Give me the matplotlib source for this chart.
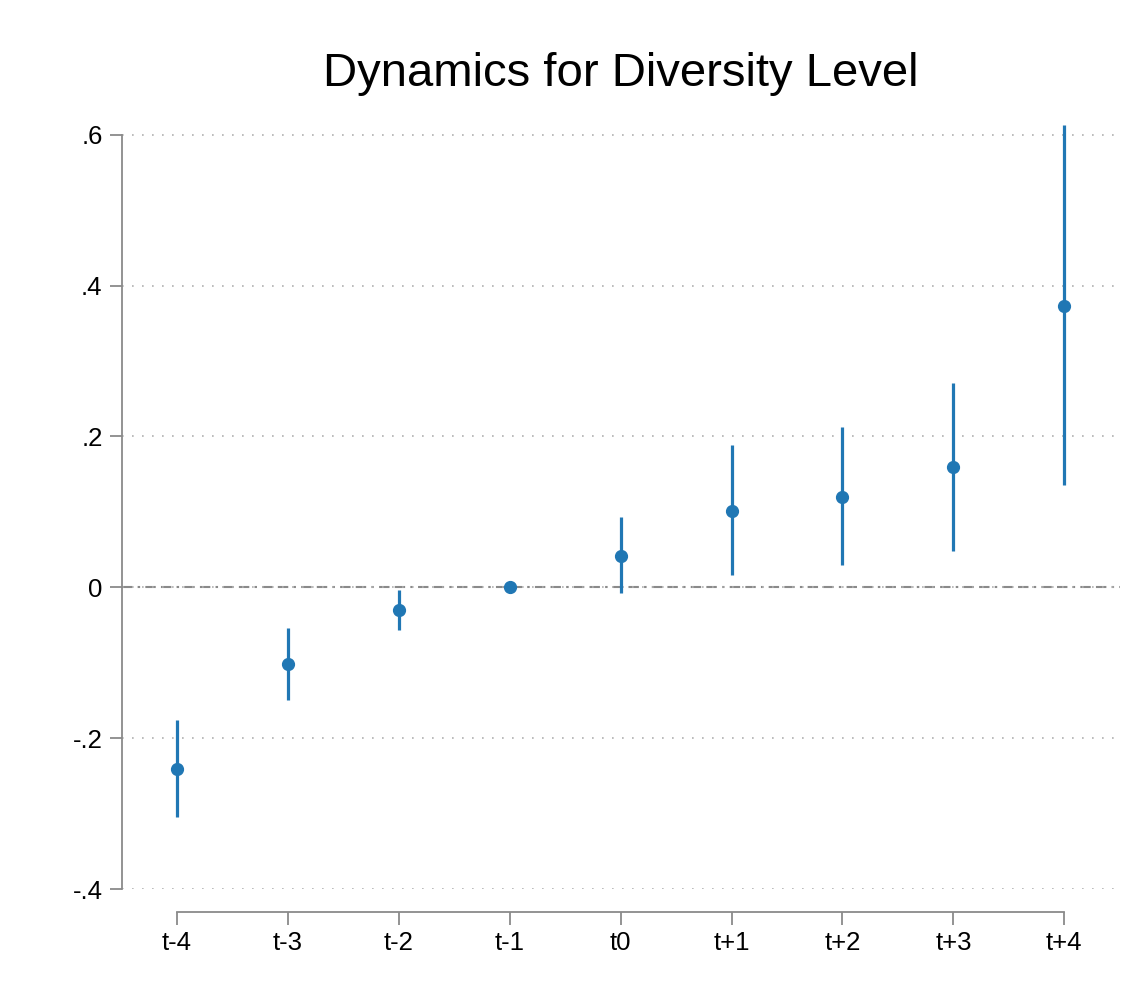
import matplotlib
matplotlib.use("Agg")
import matplotlib.pyplot as plt
import numpy as np

# event-study estimates
periods = ["t-4", "t-3", "t-2", "t-1", "t0", "t+1", "t+2", "t+3", "t+4"]
coef = [-0.241, -0.102, -0.030, 0.0, 0.042, 0.101, 0.120, 0.159, 0.373]
ci_low = [-0.304, -0.150, -0.057, 0.0, -0.007, 0.016, 0.029, 0.048, 0.135]
ci_high = [-0.176, -0.054, -0.004, 0.0, 0.093, 0.188, 0.213, 0.271, 0.613]
yticks = [-0.4, -0.2, 0.0, 0.2, 0.4, 0.6]
ytick_labels = ["-.4", "-.2", "0", ".2", ".4", ".6"]

blue = "#2077b4"
gray = "#8a8a8a"

plt.rcParams["font.family"] = ["Liberation Sans", "DejaVu Sans"]

fig = plt.figure(figsize=(11.43, 9.89), dpi=100)
ax = fig.add_axes([0.1067, 0.1011, 0.873, 0.778])

x = np.arange(len(periods))
has_ci = [hi != lo for lo, hi in zip(ci_low, ci_high)]
ax.vlines(x[has_ci], np.array(ci_low)[has_ci], np.array(ci_high)[has_ci],
          color=blue, lw=2.3, zorder=3)
ax.plot(x, coef, "o", color=blue, ms=8.5, zorder=4)

ax.axhline(0, color=gray, lw=1.5, ls=(0, (5, 2.5, 1.2, 2.5, 5, 2.5)), zorder=1)

ax.set_xlim(-0.495, 8.5)
ax.set_ylim(-0.4, 0.62)
ax.set_yticks(yticks)
ax.set_yticklabels(ytick_labels)
ax.set_xticks(x)
ax.set_xticklabels(periods)

ax.grid(axis="y", color="#b0b0b0", ls=(0, (1, 5)), lw=1.2)
ax.grid(axis="x", visible=False)

for side in ["top", "right"]:
    ax.spines[side].set_visible(False)
ax.spines["left"].set_bounds(-0.4, 0.6)
ax.spines["bottom"].set_position(("outward", 16.5))
ax.spines["bottom"].set_bounds(0, 8)
for side in ["left", "bottom"]:
    ax.spines[side].set_color(gray)
    ax.spines[side].set_linewidth(1.3)

ax.tick_params(axis="both", colors=gray, labelcolor="black", labelsize=18.5,
               length=9, width=1.3, pad=5)

ax.set_title("Dynamics for Diversity Level", fontsize=34, pad=24)

fig.savefig("out.png", dpi=100)
